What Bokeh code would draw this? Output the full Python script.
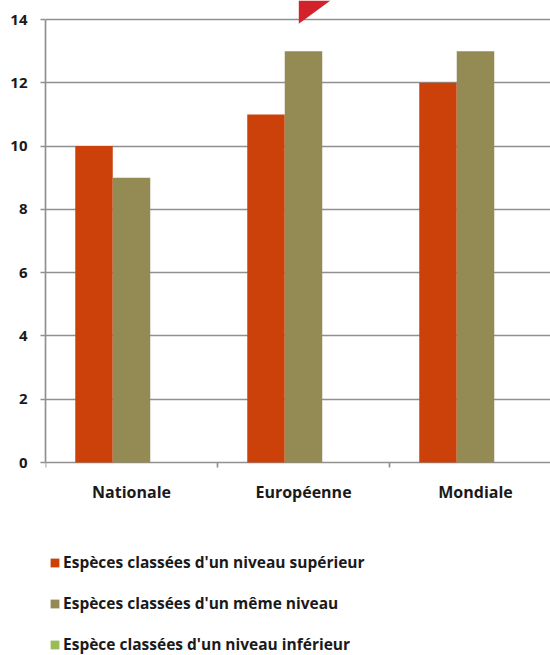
import math
from bokeh.plotting import figure
from bokeh.models import (ColumnDataSource, FixedTicker, Legend, LegendItem,
                          PolyAnnotation)
from bokeh.core.properties import value
from bokeh.embed import file_html
from bokeh.resources import INLINE

# ---- data ----
categories = ["Nationale", "Européenne", "Mondiale"]
series_names = ["Espèces classées d'un niveau supérieur",
                "Espèces classées d'un même niveau",
                "Espèce classées d'un niveau inférieur"]
superieur = [10, 11, 12]
meme = [9, 13, 13]
inferieur = [0, 0, 0]
y_ticks = [0, 2, 4, 6, 8, 10, 12, 14]

colors = ["#CC400A", "#948A54", "#9BBB59"]
FONT = "Open Sans"
TXT = "#1a1a1a"
GRID = "#909090"

n = len(categories)
centers = [i + 0.5 for i in range(n)]
bounds_x = list(range(n + 1))
bw = 0.218
offsets = [-bw, 0.0, bw]
values = [superieur, meme, inferieur]

# frame fills the whole canvas; value axis 0..14 occupies px 462..19,
# one category is 172px wide starting at x=45 (cropped at the right edge)
ppu = 443 / 14
y_top = 14 + 19 / ppu
y_bot = -(655 - 462) / ppu

p = figure(width=550, height=655, x_range=(0, 505 / 172), y_range=(y_bot, y_top),
           output_backend="svg", toolbar_location=None,
           min_border_left=45, min_border_top=0, min_border_right=0,
           min_border_bottom=0)
p.outline_line_color = None
p.background_fill_color = "white"
p.border_fill_color = "white"
p.xaxis.visible = False
p.xgrid.grid_line_color = None
p.ygrid.ticker = FixedTicker(ticks=y_ticks)
p.ygrid.grid_line_color = GRID
p.ygrid.grid_line_width = 1.7

renderers = []
for vals, off, col in zip(values, offsets, colors):
    src = ColumnDataSource(dict(x=[c + off for c in centers], top=vals))
    r = p.vbar(x="x", top="top", bottom=0, width=bw, source=src,
               fill_color=col, line_color=None)
    renderers.append(r)

# category separator ticks below the zero line
p.ray(x=bounds_x, y=[0] * len(bounds_x), length=5, length_units="screen",
      angle=-math.pi / 2, line_color=GRID, line_width=1.7)

# category labels
p.text(x=centers, y=[0] * n, text=categories, y_offset=29,
       text_align="center", text_baseline="alphabetic",
       text_font=value(FONT), text_font_style="bold",
       text_font_size="16px", text_color=TXT)

# y axis
p.yaxis.ticker = FixedTicker(ticks=y_ticks)
p.yaxis.bounds = (0, 14)
p.yaxis.major_label_text_font = FONT
p.yaxis.major_label_text_font_style = "bold"
p.yaxis.major_label_text_font_size = "15px"
p.yaxis.major_label_text_color = TXT
p.yaxis.major_tick_out = 5
p.yaxis.major_tick_in = 0
p.yaxis.minor_tick_line_color = None
p.yaxis.major_label_standoff = 13
p.yaxis.axis_line_color = GRID
p.yaxis.major_tick_line_color = GRID
p.yaxis.axis_line_width = 1.7
p.yaxis.major_tick_line_width = 1.7

legend = Legend(items=[LegendItem(label=s, renderers=[r])
                       for s, r in zip(series_names, renderers)],
                location=(4, 0), orientation="vertical",
                glyph_width=11, glyph_height=11, label_height=11,
                spacing=19, padding=0, margin=0, label_standoff=3,
                label_text_font=FONT, label_text_font_style="bold",
                label_text_font_size="15.5px", label_text_color=TXT,
                border_line_color=None, background_fill_alpha=0)
p.add_layout(legend, "center")

# decorative red corner mark at the top (screen units from frame bottom-left)
tri = PolyAnnotation(xs=[253.3, 285, 253.3], ys=[655, 655, 631.7],
                     xs_units="screen", ys_units="screen",
                     fill_color="#D2232A", fill_alpha=1, line_color=None)
p.add_layout(tri)

open("out.html", "w").write(file_html(p, INLINE))
